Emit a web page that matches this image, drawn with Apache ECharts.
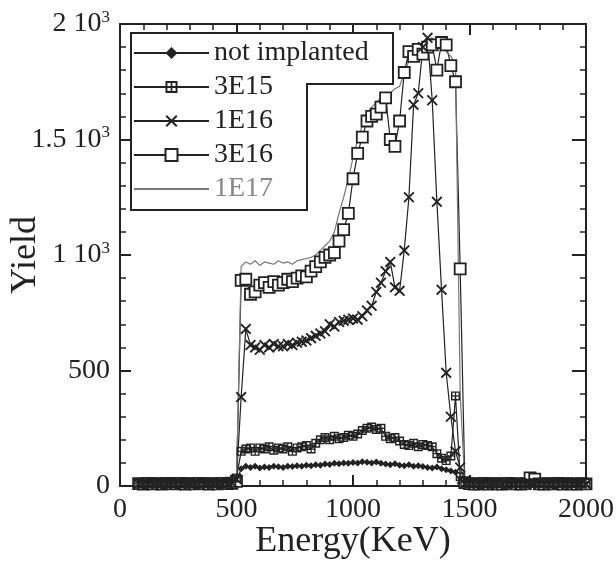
<!DOCTYPE html>
<html>
<head>
<meta charset="utf-8">
<script src="https://cdn.jsdelivr.net/npm/echarts@6/dist/echarts.min.js"></script>
<style>
  html, body { margin: 0; padding: 0; background: #fff; }
  #main { width: 616px; height: 564px; }
</style>
</head>
<body>
<div id="main"></div>
<script>
// energy channels (keV)
var energy = [80,100,120,140,160,180,200,220,240,260,280,300,320,340,360,380,400,420,440,460,480,
  500,520,540,560,580,600,620,640,660,680,700,720,740,760,780,800,820,840,860,880,
  900,920,940,960,980,1000,1020,1040,1060,1080,1100,1120,1140,1160,1180,1200,1220,1240,1260,1280,
  1300,1320,1340,1360,1380,1400,1420,1440,1460,1480,
  1500,1520,1540,1560,1580,1600,1620,1640,1660,1680,1700,1720,1740,1760,1780,1800,1820,1840,1860,1880,
  1900,1920,1940,1960,1980,2000];

var notImplanted = [8,10,9,11,8,10,9,12,10,8,11,9,10,8,12,9,10,11,9,10,12,
  20,75,85,80,85,78,82,80,85,83,80,86,84,88,85,90,88,92,90,95,
  93,98,96,100,98,102,100,105,103,100,104,98,95,92,96,90,88,92,85,88,
  84,80,78,82,75,70,65,60,12,8,
  9,8,10,11,9,8,10,9,11,10,8,9,10,12,9,8,10,11,9,10,8,9,11,10,9,10];

var dose3E15 = [12,10,13,11,12,10,14,11,12,13,10,12,11,13,12,10,12,11,13,12,14,
  35,150,160,165,150,165,160,170,155,165,160,170,150,165,170,175,160,185,200,210,
  200,215,205,210,220,215,225,240,250,255,245,250,215,205,210,195,180,175,185,170,
  180,175,170,140,120,110,130,390,40,15,
  12,14,11,13,12,10,13,12,11,14,12,13,11,12,14,13,12,11,13,12,14,12,11,13,12,13];

var dose1E16 = [10,9,11,10,12,9,10,11,10,9,12,10,11,9,10,11,10,12,9,10,14,
  30,385,680,610,600,590,610,600,615,605,605,615,610,620,625,630,640,650,660,670,
  700,690,710,715,720,725,720,735,760,780,840,880,930,970,860,845,1020,1250,1650,1700,
  1900,1940,1670,1230,850,490,300,150,80,10,
  10,9,11,10,9,12,10,11,9,10,11,9,10,12,10,9,11,10,9,10,11,10,9,12,10,9];

var dose3E16 = [10,8,11,9,10,8,11,10,9,11,8,10,9,11,10,8,10,9,11,10,12,
  20,890,895,830,840,870,880,860,885,870,880,895,885,900,910,905,930,950,970,990,
  1000,1010,1060,1110,1180,1330,1440,1510,1580,1600,1610,1640,1680,1500,1470,1580,1790,1880,1860,1890,
  1870,1900,1910,1800,1920,1910,1820,1750,940,15,
  10,8,9,11,8,10,9,8,11,10,9,8,10,35,30,9,8,10,9,11,8,10,9,8,10,9];

var dose1E17 = [15,14,16,15,13,16,14,15,16,14,15,13,16,15,14,16,15,14,16,15,18,
  25,950,970,960,975,955,970,965,960,975,965,970,960,975,980,985,990,1000,1020,1040,
  1060,1100,1180,1250,1330,1420,1500,1560,1610,1640,1660,1680,1690,1700,1720,1730,1790,1840,1870,1880,
  1900,1930,1940,1920,1900,1880,1860,1820,400,10,
  15,14,16,15,14,13,16,15,14,16,15,14,13,16,15,14,16,15,14,13,15,16,14,15,14,15];

var seriesNames = ['not implanted', '3E15', '1E16', '3E16', '1E17'];
var yTickValues = [0, 500, 1000, 1500, 2000];
var yTickText = ['{b|0}', '{b|500}', '{b|1 10}{s|3}', '{b|1.5 10}{s|3}', '{b|2 10}{s|3}'];

var ink = '#222';
var serif = 'Liberation Serif';

function pairs(vals) {
  var out = [];
  for (var i = 0; i < energy.length; i++) out.push([energy[i], vals[i]]);
  return out;
}

var boxCross = 'path://M0,0H10V10H0Z M1.6,1.6V4.3H4.3V1.6Z M5.7,1.6V4.3H8.4V1.6Z M1.6,5.7V8.4H4.3V5.7Z M5.7,5.7V8.4H8.4V5.7Z';
var cross = 'path://M0,1.2L1.2,0L5,3.8L8.8,0L10,1.2L6.2,5L10,8.8L8.8,10L5,6.2L1.2,10L0,8.8L3.8,5Z';

function baseAxis(pos) {
  return {
    type: 'value', min: 0, max: 2000, interval: 500, position: pos,
    axisLine: { show: true, onZero: false, lineStyle: { color: ink, width: 2 } },
    axisTick: { show: true, inside: true, length: 11, lineStyle: { color: ink, width: 2 } },
    minorTick: { show: true, splitNumber: 5, length: 6, lineStyle: { color: ink, width: 1.5 } },
    splitLine: { show: false },
    minorSplitLine: { show: false },
    axisLabel: { show: false }
  };
}

var xBottom = baseAxis('bottom');
xBottom.axisLabel = {
  show: true, fontFamily: serif, fontSize: 28, color: ink, margin: 10,
  formatter: function (v) { return String(v); }
};
xBottom.name = 'Energy(KeV)';
xBottom.nameLocation = 'middle';
xBottom.nameGap = 38;
xBottom.nameMoveOverlap = false;
xBottom.nameTextStyle = { fontFamily: serif, fontSize: 36, color: ink };

var yLeft = baseAxis('left');
yLeft.axisLabel = {
  show: true, margin: 10,
  formatter: function (v) { return yTickText[yTickValues.indexOf(v)]; },
  rich: {
    b: { fontFamily: serif, fontSize: 28, color: ink, lineHeight: 30 },
    s: { fontFamily: serif, fontSize: 17, color: ink, verticalAlign: 'top', lineHeight: 16 }
  }
};
yLeft.name = 'Yield';
yLeft.nameLocation = 'middle';
yLeft.nameGap = 76;
yLeft.nameMoveOverlap = false;
yLeft.nameTextStyle = { fontFamily: serif, fontSize: 36, color: ink };

var yRight = baseAxis('right');
yRight.axisTick.length = 14;

function lineSeries(name, vals, symbol, size, item, lineColor, lineWidth) {
  return {
    name: name, type: 'line', data: pairs(vals),
    symbol: symbol, symbolSize: size, showAllSymbol: true,
    lineStyle: { color: lineColor, width: lineWidth },
    itemStyle: item,
    xAxisIndex: 0, yAxisIndex: 0,
    animation: false
  };
}

var s1E17 = lineSeries(seriesNames[4], dose1E17, 'circle', 1, { color: '#777' }, '#777', 1.2);
s1E17.showSymbol = false;

var chart = echarts.init(document.getElementById('main'));
chart.setOption({
  backgroundColor: '#fff',
  animation: false,
  grid: { left: 120, right: 30, top: 24, bottom: 78, containLabel: false, outerBoundsMode: 'none' },
  xAxis: [xBottom, baseAxis('top')],
  yAxis: [yLeft, yRight],
  legend: {
    orient: 'vertical', left: 133, top: 38, padding: 0,
    itemWidth: 75, itemHeight: 15, itemGap: 4, z: 10,
    textStyle: { fontFamily: serif, fontSize: 28, color: ink, lineHeight: 30 },
    data: [
      { name: seriesNames[0] },
      { name: seriesNames[1] },
      { name: seriesNames[2] },
      { name: seriesNames[3] },
      { name: seriesNames[4], itemStyle: { opacity: 0 }, textStyle: { color: '#888' } }
    ]
  },
  graphic: [{
    type: 'polygon', z: 9,
    shape: { points: [[131, 33], [393, 33], [393, 84], [307, 84], [307, 210], [131, 210]] },
    style: { fill: '#fff', stroke: ink, lineWidth: 2 }
  }],
  series: [
    lineSeries(seriesNames[0], notImplanted, 'diamond', 7, { color: ink }, ink, 1.2),
    lineSeries(seriesNames[3], dose3E16, 'rect', 11, { color: '#fff', borderColor: ink, borderWidth: 1.8 }, ink, 1.2),
    lineSeries(seriesNames[1], dose3E15, boxCross, 9, { color: ink }, ink, 1.2),
    lineSeries(seriesNames[2], dose1E16, cross, 11, { color: ink }, ink, 1.2),
    s1E17
  ]
});
</script>
</body>
</html>
